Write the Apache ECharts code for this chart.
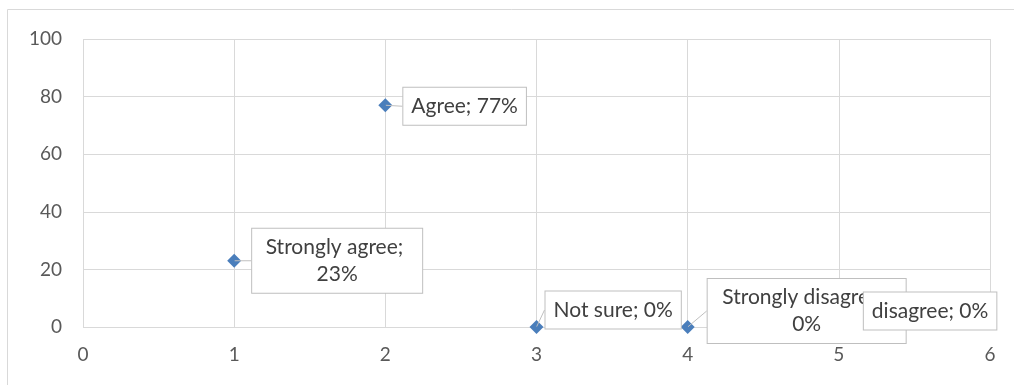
<!DOCTYPE html>
<html>
<head>
<meta charset="utf-8">
<script src="https://cdn.jsdelivr.net/npm/echarts@6/dist/echarts.min.js"></script>
<style>
  html, body { margin: 0; padding: 0; background: #fff; }
  #chart { width: 1014px; height: 385px; }
</style>
</head>
<body>
<div id="chart"></div>
<script>
// survey answers, plotted as (position, percent)
const answers = ['Strongly agree', 'Agree', 'Not sure', 'Strongly disagree', 'disagree'];
const xPos = [1, 2, 3, 4, 5];
const percent = [23, 77, 0, 0, 0];

const xTicks = { min: 0, max: 6, step: 1 };
const yTicks = { min: 0, max: 100, step: 20 };

// callout nudges: gap to the right of the point, vertical shift
const calloutGap = [17, 17, 8, 19, 24];
const calloutShift = [0, 1, -17, -16, -16];
const calloutWidth = [154, null, null, 182, null];

const gridColor = '#d9d9d9';
const font = 'Lato, "Liberation Sans", sans-serif';

const chart = echarts.init(document.getElementById('chart'));

const points = answers.map((name, i) => ({ name, value: [xPos[i], percent[i]] }));

const calloutPoints = answers.map((name, i) => {
    const label = {};
    if (calloutWidth[i]) {
        label.width = calloutWidth[i];
        label.overflow = 'break';
    }
    return { name, value: [xPos[i], percent[i]], label };
});

const option = {
    animation: false,
    graphic: [{
        type: 'rect',
        shape: { x: 7.5, y: 9.5, width: 1100, height: 500 },
        style: { fill: 'none', stroke: gridColor, lineWidth: 1 },
        silent: true,
        z: -1
    }],
    grid: { left: 83, right: 24, top: 39, bottom: 58 },
    xAxis: {
        type: 'value',
        min: xTicks.min,
        max: xTicks.max,
        interval: xTicks.step,
        axisLine: { show: false },
        axisTick: { show: false },
        axisLabel: { color: '#595959', fontSize: 19, fontFamily: font, margin: 18 },
        splitLine: { show: true, lineStyle: { color: gridColor, width: 1 } }
    },
    yAxis: {
        type: 'value',
        min: yTicks.min,
        max: yTicks.max,
        interval: yTicks.step,
        axisLine: { show: false },
        axisTick: { show: false },
        axisLabel: { color: '#595959', fontSize: 19, fontFamily: font, margin: 21 },
        splitLine: { show: true, lineStyle: { color: gridColor, width: 1 } }
    },
    series: [{
        // markers
        type: 'scatter',
        symbol: 'diamond',
        symbolSize: 14,
        itemStyle: { color: '#4a7ebb', opacity: 1 },
        data: points,
        z: 2
    }, {
        // callouts, on their own layer above every marker
        type: 'scatter',
        symbolSize: 1,
        itemStyle: { color: 'rgba(0,0,0,0)', opacity: 1 },
        data: calloutPoints,
        zlevel: 1,
        z: 5,
        silent: true,
        label: {
            show: true,
            position: 'inside',
            formatter: (p) => `${p.name}; ${p.value[1]}%`,
            color: '#404040',
            fontSize: 21,
            fontFamily: font,
            lineHeight: 27,
            align: 'center',
            opacity: 1,
            backgroundColor: '#ffffff',
            borderColor: '#bfbfbf',
            borderWidth: 1,
            padding: [5, 8]
        },
        labelLine: {
            show: true,
            lineStyle: { color: '#bfbfbf', width: 1 }
        },
        labelLayout: (params) => {
            const i = params.dataIndex;
            return {
                dx: params.labelRect.width / 2 + calloutGap[i],
                dy: calloutShift[i],
                hideOverlap: false
            };
        }
    }]
};

chart.setOption(option);
</script>
</body>
</html>
